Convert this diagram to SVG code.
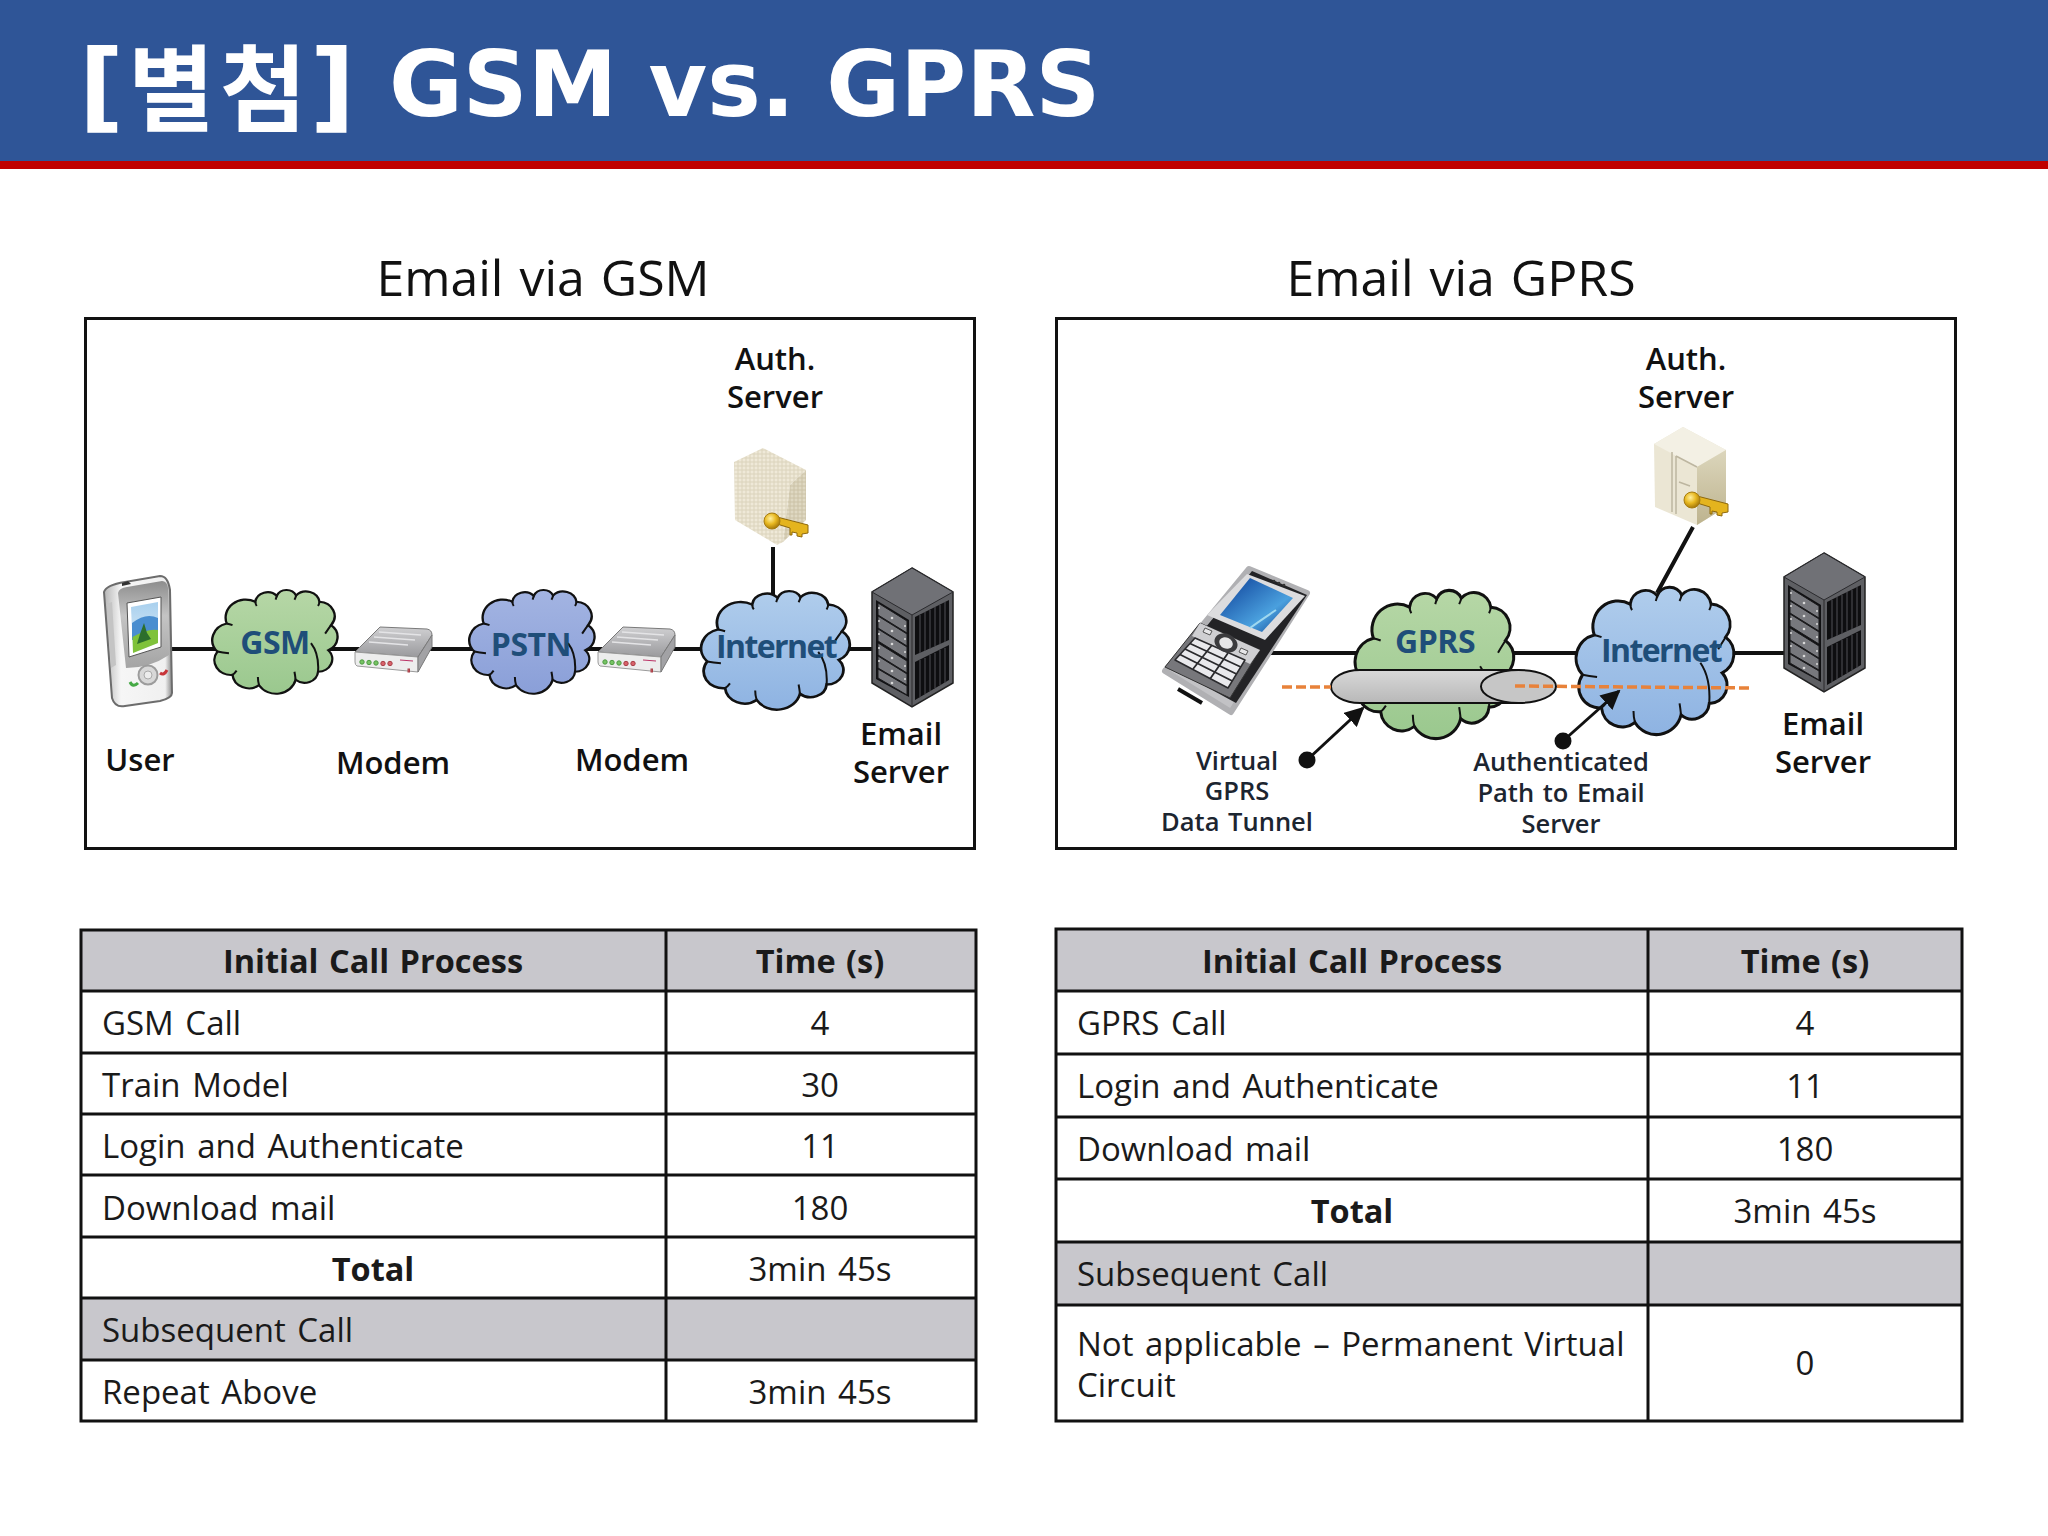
<svg xmlns="http://www.w3.org/2000/svg" width="2048" height="1536" viewBox="0 0 2048 1536" font-family="'Open Sans','Noto Sans CJK KR',sans-serif">
<style>
.t{font-family:'Open Sans','Noto Sans CJK KR',sans-serif}
.title{font-size:50px;text-anchor:middle;fill:#111;word-spacing:3px}
.lb{font-size:31px;font-weight:600;text-anchor:middle;fill:#111}
.sm{font-size:25.500px;font-weight:600;text-anchor:middle;fill:#1c2530;word-spacing:2px}
.cl{font-size:32px;font-weight:700;text-anchor:middle;fill:#1f4e79;letter-spacing:-.5px}
.net{letter-spacing:-1.600px}
.td{font-size:33px;fill:#1a1a1a;word-spacing:3px}
.c{text-anchor:middle}
.b{font-weight:700;font-size:32.500px;word-spacing:2px}
.grid{stroke:#111;stroke-width:3;fill:none}
.box{fill:#fff;stroke:#111;stroke-width:3}
.hd{fill:#c8c7cc}
.wire{stroke:#111;stroke-width:4;fill:none}
.cs{stroke:#111;stroke-width:2;vector-effect:non-scaling-stroke}
.curl{fill:none;stroke:#111;stroke-width:2;vector-effect:non-scaling-stroke}
.dash{stroke:#e8823a;stroke-width:3.500;stroke-dasharray:10 4;fill:none}
.pt{stroke:#111;stroke-width:3;fill:none;marker-end:url(#ah)}
</style>
<defs>
<marker id="ah" viewBox="0 0 10 10" refX="9" refY="5" markerWidth="6.500" markerHeight="6.500" orient="auto" markerUnits="strokeWidth"><path d="M0 0L10 5L0 10z" fill="#111"/></marker>
<linearGradient id="pda" x1="0" x2="1"><stop offset="0" stop-color="#b5b5b5"/><stop offset=".25" stop-color="#f6f6f6"/><stop offset=".9" stop-color="#f0f0f0"/><stop offset="1" stop-color="#8a8a8a"/></linearGradient>
<linearGradient id="pdag" x1="0" y1="0" x2="0" y2="1"><stop offset="0" stop-color="#8d8d8d"/><stop offset=".4" stop-color="#c4c4c4"/><stop offset="1" stop-color="#a4a4a4"/></linearGradient>
<linearGradient id="scr" x1="0" y1="0" x2="0" y2="1"><stop offset="0" stop-color="#a8d0ee"/><stop offset="1" stop-color="#e6f0f8"/></linearGradient>
<linearGradient id="scr2" x1="0" y1="0" x2="1" y2="1"><stop offset="0" stop-color="#0b3c96"/><stop offset=".65" stop-color="#4aa0de"/><stop offset="1" stop-color="#0c3c8c"/></linearGradient>
<linearGradient id="tun" x1="0" y1="0" x2="0" y2="1"><stop offset="0" stop-color="#d8d8d8"/><stop offset="1" stop-color="#b8b8b8"/></linearGradient>
<linearGradient id="gcl" x1="0" y1="0" x2="0" y2="1"><stop offset="0" stop-color="#b6d7a6"/><stop offset="1" stop-color="#9ac88e"/></linearGradient>
<linearGradient id="pcl" x1="0" y1="0" x2="0" y2="1"><stop offset="0" stop-color="#a3b4e2"/><stop offset="1" stop-color="#8a9fd8"/></linearGradient>
<linearGradient id="bcl" x1="0" y1="0" x2="0" y2="1"><stop offset="0" stop-color="#b0cdec"/><stop offset="1" stop-color="#8eb3e2"/></linearGradient>
<linearGradient id="mdt" x1="0" y1="0" x2="0" y2="1"><stop offset="0" stop-color="#d0d0d2"/><stop offset="1" stop-color="#9a9a9d"/></linearGradient>
<radialGradient id="gold" cx=".4" cy=".35" r=".7"><stop offset="0" stop-color="#fff0a0"/><stop offset=".5" stop-color="#e8b820"/><stop offset="1" stop-color="#9c7008"/></radialGradient>
<linearGradient id="cre" x1="0" y1="0" x2="0" y2="1"><stop offset="0" stop-color="#dcd6bc"/><stop offset="1" stop-color="#bdb38e"/></linearGradient>
<pattern id="stone" width="4" height="4" patternUnits="userSpaceOnUse"><rect width="4" height="4" fill="#efe9d8"/><path d="M0 2H4M2 0V4" stroke="#dcd4bd" stroke-width="1"/></pattern>
<pattern id="stone2" width="4" height="4" patternUnits="userSpaceOnUse"><rect width="4" height="4" fill="#dfd8c2"/><path d="M0 2H4M2 0V4" stroke="#cbc2a6" stroke-width="1"/></pattern>
<path id="cloud" d="M1.700 60A16 16 0 0 1 9.600 33.500A17 17 0 0 1 33.800 13A10.500 10.500 0 0 1 52 7.400A9 9 0 0 1 68.400 7A11.500 11.500 0 0 1 88.200 13A13.500 13.500 0 0 1 98 35A14 14 0 0 1 95.700 58.700A12 12 0 0 1 87 79A11.500 11.500 0 0 1 68 86.600A17 17 0 0 1 37 91.700A14 14 0 0 1 14.500 82A14 14 0 0 1 1.700 60Z"/>
<path id="curls" class="curl" d="M1.700 60Q6 61 11.500 61.500M9.600 33.500Q12 34 14.500 35M33.800 13Q34 15.500 35 17M52 7.400Q51.500 9.500 51 11M68.400 7Q68 9 67 11M88.200 13Q88 15 87 17M98 35Q96 38 93 43M81 52Q88 62 87 79M68 86.600Q67.500 82 67 79M37 91.700Q36 88 36 84M14.500 82Q16 81 18 78"/>
<g id="modem">
<path d="M25 0L72 2Q77 3 77 8L63 30L0 25Z" fill="url(#mdt)" stroke="#7a7a7a"/>
<path d="M0 25L63 30V45L2 39Q0 38 0 35Z" fill="#ededed" stroke="#9a9a9a"/>
<path d="M63 30L77 8V20L63 45Z" fill="#a2a2a5" stroke="#7a7a7a"/>
<path d="M24 5L66 8M19 10L60 13M14 15L53 18" stroke="#e4e4e6" stroke-width="1.500" fill="none"/>
<g fill="#76c463" stroke="#4f9a44"><circle cx="7" cy="35" r="2.200"/><circle cx="14" cy="35.500" r="2.200"/><circle cx="21" cy="36" r="2.200"/></g>
<g fill="#d8616a" stroke="#a84048"><circle cx="28" cy="36.500" r="2.200"/><circle cx="35" cy="36.500" r="2.200"/><rect x="53" y="42" width="1.500" height="3"/></g>
<path d="M45 33L58 34" stroke="#b36" stroke-width="1"/>
</g>
<g id="server">
<path d="M40 0L81 24V115L40 139L0 115V24Z" fill="#5e5f63" stroke="#222" stroke-width="1.500"/>
<path d="M40 0L81 24L40 47L0 24Z" fill="#707176" stroke="#2a2a2d" stroke-width="1"/>
<path d="M40 47V139" stroke="#2a2a2d" fill="none"/>
<path d="M4 32L37 52V129L4 111Z" fill="#101012"/>
<g fill="#77787d" stroke="#1a1a1c"><path d="M6 35L35 53V65L6 47Z"/><path d="M6 48L35 66V78L6 60Z"/><path d="M6 61L35 79V91L6 73Z"/><path d="M6 75L35 93V105L6 87Z"/><path d="M6 88L35 106V117L6 100Z"/><path d="M6 101L35 118V127L6 110Z"/></g>
<g fill="#d8d8d8"><circle cx="20" cy="50" r="1.300"/><circle cx="20" cy="63" r="1.300"/><circle cx="20" cy="76" r="1.300"/><circle cx="20" cy="90" r="1.300"/><circle cx="20" cy="103" r="1.300"/><circle cx="20" cy="115" r="1.300"/><circle cx="7" cy="40" r="1"/><circle cx="7" cy="53" r="1"/><circle cx="7" cy="66" r="1"/><circle cx="7" cy="80" r="1"/><circle cx="7" cy="93" r="1"/><circle cx="33" cy="58" r="1"/><circle cx="33" cy="71" r="1"/><circle cx="33" cy="84" r="1"/><circle cx="33" cy="98" r="1"/><circle cx="33" cy="111" r="1"/></g>
<path d="M43 49L77 32V72L43 87ZM43 94L77 77V112L43 132Z" fill="#0e0e10"/>
<path d="M48 47V85M53 44V83M58 42V81M63 39V78M68 37V76M73 34V74M48 92V129M53 90V126M58 87V123M63 85V120M68 82V117M73 80V115" stroke="#46474b" stroke-width="1.200" fill="none"/>
</g>
<g id="key">
<path d="M13 5L44 13V21L38 22V25L33 24V21L28 20V23H26V16L13 12Z" fill="#e4b41e" stroke="#8e680c"/>
<circle cx="8" cy="9" r="8" fill="url(#gold)" stroke="#a67c10"/>
</g>
</defs>

<rect width="2048" height="1536" fill="#fff"/>
<g id="header">
<rect width="2048" height="161" fill="#2f5597"/>
<rect y="161" width="2048" height="8" fill="#c00000"/>
<text y="120" font-family="'DejaVu Sans',sans-serif" font-weight="700" font-size="98" fill="#fff"><tspan x="79">[</tspan><tspan x="310">]</tspan></text>
<text y="124" font-family="'Noto Sans CJK KR',sans-serif" font-weight="700" font-size="94" fill="#fff"><tspan x="128">별</tspan><tspan x="220">첨</tspan></text>
<text x="389" y="116" font-family="'DejaVu Sans',sans-serif" font-weight="700" font-size="90" fill="#fff">GSM vs. GPRS</text>
</g>

<text x="543" y="296" class="t title">Email via GSM</text>
<text x="1461" y="296" class="t title">Email via GPRS</text>

<rect id="frame-gsm" x="85.500" y="318.500" width="889" height="530" class="box"/>
<rect id="frame-gprs" x="1056.500" y="318.500" width="899" height="530" class="box"/>

<g id="connectors">
<path class="wire" d="M170 649H873M773 547V600"/>
<path class="wire" d="M1267 653H1785M1693 527L1657 593"/>
</g>

<g id="user-gsm">
<path d="M104 592Q106 585 125 582L160 576Q168 576 170 590L172 693Q172 698 160 701L125 706Q115 708 112 698Z" fill="url(#pda)" stroke="#6c6c6c" stroke-width="2"/>
<path d="M118 593Q119 588 127 587L162 581Q167 581 168 588L169 655Q150 668 126 668Z" fill="url(#pdag)"/>
<path d="M122 583L128 581L131 584L122 586Z" fill="#333"/>
<path d="M107 604L112 602L116 665L111 668Z" fill="#c4c4c4"/>
<path d="M127 603L161 597V647L129 657Z" fill="#fff" stroke="#555"/>
<path d="M131 607L158 602V643L133 653Z" fill="url(#scr)"/>
<path d="M132 623Q146 612 158 618V635L132 640Z" fill="#4a8ed0"/>
<path d="M132.500 637Q148 628 158 630V643L133 653Z" fill="#7fc23a"/>
<path d="M140 634L144 623L147 633L151 639L137 644Z" fill="#2c6e2c"/>
<circle cx="148" cy="675" r="9.500" fill="#d8d8d8" stroke="#9c9c9c" stroke-width="2"/>
<circle cx="148" cy="675" r="4" fill="#ececec" stroke="#aaa"/>
<path d="M130 682Q133 688 138 683" stroke="#45a945" stroke-width="3" fill="none"/>
<path d="M160 673Q164 676 167 670" stroke="#c8353a" stroke-width="3" fill="none"/>
</g>
<g id="cloud-gsm"><use href="#cloud" transform="translate(215.400 588) scale(1.18 1.06)" fill="url(#gcl)" class="cs"/><use href="#curls" transform="translate(215.400 588) scale(1.18 1.06)"/><text x="275" y="654" class="t cl">GSM</text></g>
<use id="modem-1" href="#modem" x="355" y="627"/>
<g id="cloud-pstn"><use href="#cloud" transform="translate(472.400 588) scale(1.18 1.06)" fill="url(#pcl)" class="cs"/><use href="#curls" transform="translate(472.400 588) scale(1.18 1.06)"/><text x="531" y="656" class="t cl">PSTN</text></g>
<use id="modem-2" href="#modem" x="598" y="627"/>
<g id="cloud-internet-1"><use href="#cloud" transform="translate(704.800 588.800) scale(1.4 1.212)" fill="url(#bcl)" class="cs"/><use href="#curls" transform="translate(704.800 588.800) scale(1.4 1.212)"/><text x="776" y="658" class="t cl net">Internet</text></g>
<g id="auth-1">
<path d="M763 448L806 470L790 485L783 542L777 545L735 520L734 462Z" fill="url(#stone)"/>
<path d="M790 485L806 470V520L783 542Z" fill="url(#stone2)"/>
<use href="#key" x="764" y="512"/>
</g>
<use id="email-1" href="#server" x="872" y="568"/>

<g id="labels-gsm" class="t">
<text class="lb"><tspan x="775" y="370">Auth.</tspan><tspan x="775" y="408">Server</tspan></text>
<text x="140" y="771" class="lb">User</text><text x="393" y="774" class="lb">Modem</text><text x="632" y="771" class="lb">Modem</text>
<text class="lb"><tspan x="901" y="745">Email</tspan><tspan x="901" y="783">Server</tspan></text>
</g>

<g id="phone-gprs" stroke-linejoin="round">
<path d="M1249 569L1307 593L1231 712L1165 671Z" fill="#c2c2c5" stroke="#b0b0b3" stroke-width="6"/>
<path d="M1252 571L1307 595L1236 703L1172 668Z" fill="#232326"/>
<path d="M1247 574L1305 596L1265 640L1207 615Z" fill="#dcdcde"/>
<path d="M1250 578L1293 598L1262 632L1220 615Z" fill="url(#scr2)"/>
<path d="M1276 610Q1258 622 1250 628" stroke="#9fd8f0" stroke-width="2" fill="none"/>
<circle cx="1274" cy="581" r="1.300" fill="#333"/><circle cx="1279" cy="583" r="1.300" fill="#333"/><circle cx="1284" cy="585" r="1.300" fill="#333"/>
<path d="M1200 623L1260 650L1230 698L1165 667Z" fill="#77777b" stroke="#333"/>
<path d="M1200 623L1260 650L1250 664L1192 636Z" fill="#cfcfd2"/>
<path d="M1195 638L1245 660L1228 688L1175 660Z" fill="#e9e9ec" stroke="#2a2a2d" stroke-width="1.500"/>
<path d="M1190 643.500L1240.800 667M1185 649L1236.500 674M1180 654.500L1232.300 681M1212 645L1193 669M1228 653L1210 679" stroke="#2a2a2d" stroke-width="1.800" fill="none"/>
<ellipse cx="1226" cy="643" rx="12" ry="9" fill="#3b3b3e" transform="rotate(25 1226 643)"/>
<ellipse cx="1226" cy="643" rx="7" ry="5.500" fill="#e6e6e8" transform="rotate(25 1226 643)"/>
<path d="M1205 628L1212 631L1210 635L1203 632ZM1241 648L1248 651L1246 655L1239 652Z" fill="#e6e6e8" stroke="#555"/>
<path d="M1178 689L1202 703" stroke="#111" stroke-width="4"/>
</g>
<g id="cloud-gprs"><use href="#cloud" transform="translate(1359 587.500) scale(1.495 1.515)" fill="url(#gcl)" class="cs"/><use href="#curls" transform="translate(1359 587.500) scale(1.495 1.515)"/><text x="1435" y="653" class="t cl">GPRS</text></g>
<g id="cloud-internet-2"><use href="#cloud" transform="translate(1580 584.500) scale(1.486 1.505)" fill="url(#bcl)" class="cs"/><use href="#curls" transform="translate(1580 584.500) scale(1.486 1.505)"/><text x="1661" y="662" class="t cl net">Internet</text></g>
<g id="tunnel">
<path d="M1518 670H1360A29 16.500 0 0 0 1360 703H1518Z" fill="url(#tun)" stroke="#111" stroke-width="2"/>
<ellipse cx="1518.500" cy="686.500" rx="37.500" ry="16.500" fill="#c6c6c6" stroke="#111" stroke-width="2"/>
</g>
<g id="auth-2">
<path d="M1683 427L1726 450V507L1697 525L1655 507L1654 444Z" fill="#ebe6d4"/>
<path d="M1683 427L1726 450L1697 467L1654 444Z" fill="#f3f0e4"/>
<path d="M1697 467L1726 450V507L1697 525Z" fill="url(#cre)"/>
<path d="M1672 452V512M1676 456L1697 467M1676 456V514M1679 482L1690 486" stroke="#bdb6a0" stroke-width="1.500" fill="none"/>
<use href="#key" x="1684" y="491"/>
</g>
<use id="email-2" href="#server" x="1784" y="553"/>
<g id="pointers">
<path class="dash" d="M1282 687H1331M1515 686L1752 688"/>
<path class="pt" d="M1307 760L1363 708"/>
<path class="pt" d="M1563 741L1619 691"/>
<circle cx="1307" cy="760" r="8.500" fill="#111"/>
<circle cx="1563" cy="741" r="8.500" fill="#111"/>
</g>
<g id="labels-gprs" class="t">
<text class="lb"><tspan x="1686" y="370">Auth.</tspan><tspan x="1686" y="408">Server</tspan></text>
<text class="lb"><tspan x="1823" y="735">Email</tspan><tspan x="1823" y="773">Server</tspan></text>
<text class="sm"><tspan x="1237" y="770">Virtual</tspan><tspan x="1237" y="800">GPRS</tspan><tspan x="1237" y="831">Data Tunnel</tspan></text>
<text class="sm"><tspan x="1561" y="771">Authenticated</tspan><tspan x="1561" y="802">Path to Email</tspan><tspan x="1561" y="833">Server</tspan></text>
</g>

<g id="table-gsm" class="t">
<rect x="81" y="930" width="895" height="61" class="hd"/><rect x="81" y="1298" width="895" height="62" class="hd"/>
<path class="grid" d="M81 930H976V1421H81ZM666 930V1421M81 991H976M81 1053H976M81 1114H976M81 1175H976M81 1237H976M81 1298H976M81 1360H976"/>
<text x="373" y="973" class="td c b">Initial Call Process</text><text x="820" y="973" class="td c b">Time (s)</text>
<text x="102" y="1035" class="td">GSM Call</text><text x="820" y="1035" class="td c">4</text>
<text x="102" y="1097" class="td">Train Model</text><text x="820" y="1097" class="td c">30</text>
<text x="102" y="1158" class="td">Login and Authenticate</text><text x="820" y="1158" class="td c">11</text>
<text x="102" y="1220" class="td">Download mail</text><text x="820" y="1220" class="td c">180</text>
<text x="373" y="1281" class="td c b">Total</text><text x="820" y="1281" class="td c">3min 45s</text>
<text x="102" y="1342" class="td">Subsequent Call</text>
<text x="102" y="1404" class="td">Repeat Above</text><text x="820" y="1404" class="td c">3min 45s</text>
</g>
<g id="table-gprs" class="t">
<rect x="1056" y="929" width="906" height="62" class="hd"/><rect x="1056" y="1242" width="906" height="63" class="hd"/>
<path class="grid" d="M1056 929H1962V1421H1056ZM1648 929V1421M1056 991H1962M1056 1054H1962M1056 1117H1962M1056 1179H1962M1056 1242H1962M1056 1305H1962"/>
<text x="1352" y="973" class="td c b">Initial Call Process</text><text x="1805" y="973" class="td c b">Time (s)</text>
<text x="1077" y="1035" class="td">GPRS Call</text><text x="1805" y="1035" class="td c">4</text>
<text x="1077" y="1098" class="td">Login and Authenticate</text><text x="1805" y="1098" class="td c">11</text>
<text x="1077" y="1161" class="td">Download mail</text><text x="1805" y="1161" class="td c">180</text>
<text x="1352" y="1223" class="td c b">Total</text><text x="1805" y="1223" class="td c">3min 45s</text>
<text x="1077" y="1286" class="td">Subsequent Call</text>
<text x="1077" y="1356" class="td">Not applicable – Permanent Virtual</text>
<text x="1077" y="1397" class="td">Circuit</text><text x="1805" y="1375" class="td c">0</text>
</g>
</svg>
